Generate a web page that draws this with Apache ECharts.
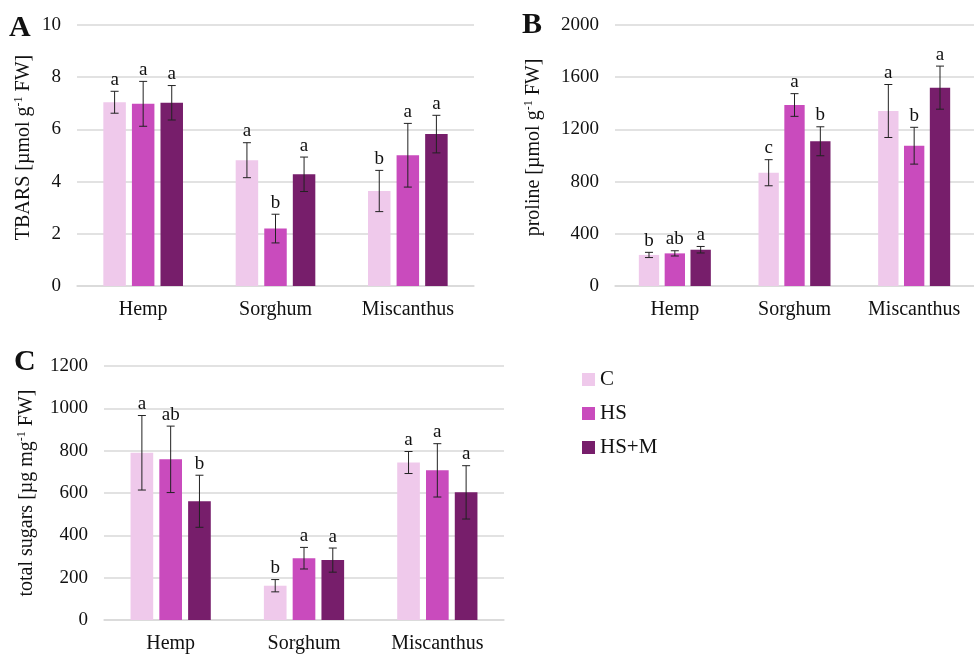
<!DOCTYPE html>
<html>
<head>
<meta charset="utf-8">
<script src="https://cdn.jsdelivr.net/npm/echarts@6/dist/echarts.min.js"></script>
<style>
html,body{margin:0;padding:0;background:#fff;}
#main{width:974px;height:655px;}
</style>
</head>
<body>
<div id="main"></div>
<script>
const categories = ['Hemp', 'Sorghum', 'Miscanthus'];
const treatments = ['C', 'HS', 'HS+M'];

// Panel A: TBARS
const tbarsC = [7.04, 4.82, 3.64];
const tbarsHS = [6.98, 2.20, 5.01];
const tbarsHSM = [7.02, 4.28, 5.82];
const tbarsErrC = [0.42, 0.67, 0.79];
const tbarsErrHS = [0.86, 0.55, 1.22];
const tbarsErrHSM = [0.66, 0.66, 0.72];
const tbarsLetC = ['a', 'a', 'b'];
const tbarsLetHS = ['a', 'b', 'a'];
const tbarsLetHSM = ['a', 'a', 'a'];
const tbarsTicks = [0, 2, 4, 6, 8, 10];

// Panel B: proline
const prolineC = [238, 868, 1341];
const prolineHS = [250, 1387, 1075];
const prolineHSM = [278, 1109, 1520];
const prolineErrC = [20, 100, 203];
const prolineErrHS = [20, 87, 141];
const prolineErrHSM = [25, 111, 165];
const prolineLetC = ['b', 'c', 'a'];
const prolineLetHS = ['ab', 'a', 'b'];
const prolineLetHSM = ['a', 'b', 'a'];
const prolineTicks = [0, 400, 800, 1200, 1600, 2000];

// Panel C: total sugars
const sugarsC = [790, 162, 744];
const sugarsHS = [759, 292, 707];
const sugarsHSM = [561, 283, 603];
const sugarsErrC = [176, 29, 52];
const sugarsErrHS = [157, 51, 126];
const sugarsErrHSM = [123, 57, 126];
const sugarsLetC = ['a', 'b', 'a'];
const sugarsLetHS = ['ab', 'a', 'a'];
const sugarsLetHSM = ['b', 'a', 'a'];
const sugarsTicks = [0, 200, 400, 600, 800, 1000, 1200];

const colors = ['#EFC9EB', '#C94BBD', '#771E6B'];
const FONT = "'Liberation Serif', 'Times New Roman', serif";
const BAR_W = 0.17, GAP = 0.27;

const panels = [
  {vals: [tbarsC, tbarsHS, tbarsHSM], errs: [tbarsErrC, tbarsErrHS, tbarsErrHSM], lets: [tbarsLetC, tbarsLetHS, tbarsLetHSM], ticks: tbarsTicks,
   grid: {left: 77, top: 25, width: 397, height: 261}, nameMain: 'TBARS [µmol g', nameGap: 42, namePad: 16},
  {vals: [prolineC, prolineHS, prolineHSM], errs: [prolineErrC, prolineErrHS, prolineErrHSM], lets: [prolineLetC, prolineLetHS, prolineLetHSM], ticks: prolineTicks,
   grid: {left: 615, top: 25, width: 369, height: 261}, nameMain: 'proline [µmol g', nameGap: 70, namePad: 16},
  {vals: [sugarsC, sugarsHS, sugarsHSM], errs: [sugarsErrC, sugarsErrHS, sugarsErrHSM], lets: [sugarsLetC, sugarsLetHS, sugarsLetHSM], ticks: sugarsTicks,
   grid: {left: 104, top: 366, width: 400, height: 254}, nameMain: 'total sugars [µg mg', nameGap: 66, namePad: 0}
];

const grids = [], xAxes = [], yAxes = [], series = [];
panels.forEach((p, pi) => {
  grids.push(p.grid);
  xAxes.push({
    type: 'category', gridIndex: pi, data: categories,
    axisLine: {show: true, lineStyle: {color: '#d9d9d9', width: 1.5}},
    axisTick: {show: false},
    axisLabel: {fontFamily: FONT, fontSize: 20, color: '#111', margin: 14, interval: 0}
  });
  const t = p.ticks;
  yAxes.push({
    type: 'value', gridIndex: pi, min: t[0], max: t[t.length - 1], interval: t[1] - t[0],
    axisLine: {show: false}, axisTick: {show: false},
    splitLine: {lineStyle: {color: '#d9d9d9', width: 1.5}},
    axisLabel: {fontFamily: FONT, fontSize: 19, color: '#111', margin: 16, formatter: v => String(v)},
    name: '{m|' + p.nameMain + '}{s|-1}{m| FW]}',
    nameLocation: 'middle', nameGap: p.nameGap,
    nameTextStyle: {
      fontFamily: FONT, fontSize: 20, color: '#111',
      padding: [0, 0, 0, p.namePad],
      rich: {
        m: {fontFamily: FONT, fontSize: 20, color: '#111', lineHeight: 22},
        s: {fontFamily: FONT, fontSize: 12, color: '#111', verticalAlign: 'top', lineHeight: 22, padding: [0, 0, 8, 0]}
      }
    }
  });
  treatments.forEach((tr, ti) => {
    series.push({
      type: 'bar', name: tr, xAxisIndex: pi, yAxisIndex: pi,
      data: p.vals[ti], barWidth: (BAR_W * 100) + '%', barGap: (GAP * 100) + '%',
      itemStyle: {color: colors[ti]}, animation: false
    });
  });
  treatments.forEach((tr, ti) => {
    const letters = p.lets[ti];
    series.push({
      type: 'custom', name: 'err' + pi + '_' + ti, xAxisIndex: pi, yAxisIndex: pi,
      data: p.vals[ti].map((v, k) => [k, v, p.errs[ti][k]]),
      encode: {x: 0, y: 1}, z: 5, clip: false, animation: false,
      renderItem: function (params, api) {
        const k = api.value(0), v = api.value(1), e = api.value(2);
        const band = api.size([1, 0])[0];
        const bw = band * BAR_W, gap = bw * GAP;
        const cx = api.coord([k, v])[0] + (ti - 1) * (bw + gap);
        const yt = api.coord([k, v + e])[1];
        const yb = api.coord([k, v - e])[1];
        const cap = 4;
        const ls = {stroke: '#222', lineWidth: 1};
        return {
          type: 'group',
          children: [
            {type: 'line', shape: {x1: cx, y1: yt, x2: cx, y2: yb}, style: ls},
            {type: 'line', shape: {x1: cx - cap, y1: yt, x2: cx + cap, y2: yt}, style: ls},
            {type: 'line', shape: {x1: cx - cap, y1: yb, x2: cx + cap, y2: yb}, style: ls},
            {type: 'text', style: {text: letters[params.dataIndex], x: cx, y: yt - 2,
              textAlign: 'center', textVerticalAlign: 'bottom', fontFamily: FONT, fontSize: 19, fill: '#111'}}
          ]
        };
      }
    });
  });
});

const chart = echarts.init(document.getElementById('main'), null, {renderer: 'canvas'});
chart.setOption({
  backgroundColor: '#fff',
  animation: false,
  grid: grids, xAxis: xAxes, yAxis: yAxes, series: series,
  legend: {
    data: treatments, orient: 'vertical', left: 577, top: 364,
    icon: 'rect', itemWidth: 13, itemHeight: 13, itemGap: 13,
    textStyle: {fontFamily: FONT, fontSize: 21, color: '#111'},
    selectedMode: false
  },
  graphic: [
    {type: 'text', left: 9, top: 13, style: {text: 'A', fontFamily: FONT, fontWeight: 'bold', fontSize: 30, fill: '#111'}},
    {type: 'text', left: 522, top: 10, style: {text: 'B', fontFamily: FONT, fontWeight: 'bold', fontSize: 30, fill: '#111'}},
    {type: 'text', left: 14, top: 347, style: {text: 'C', fontFamily: FONT, fontWeight: 'bold', fontSize: 30, fill: '#111'}}
  ]
});
</script>
</body>
</html>
